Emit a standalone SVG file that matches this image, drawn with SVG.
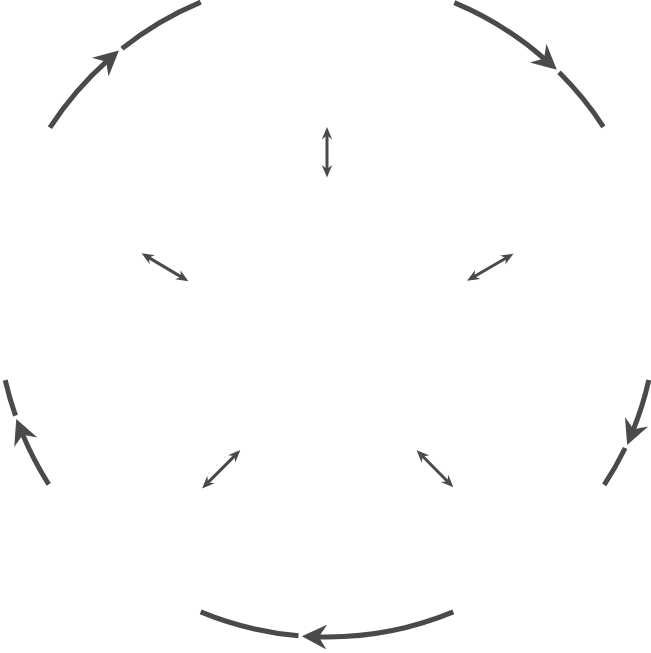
<svg xmlns="http://www.w3.org/2000/svg" width="651" height="653" viewBox="0 0 651 653">
  <style>
    .cycle { fill: none; stroke: #4a4a4a; stroke-width: 5; }
    .spoke { fill: none; stroke: #4a4a4a; stroke-width: 3; }
  </style>
  <defs>
    <marker id="bigHead" markerUnits="userSpaceOnUse" markerWidth="28" markerHeight="28" viewBox="0 -14 28 28" refX="10" refY="0" orient="auto">
      <path d="M25,0 L0,-12.5 L8,0 L0,12.5 Z" fill="#4a4a4a"/>
    </marker>
    <marker id="smallHead" markerUnits="userSpaceOnUse" markerWidth="14" markerHeight="12" viewBox="0 -6 14 12" refX="5" refY="0" orient="auto-start-reverse">
      <path d="M12.5,0 L0,-5.2 L4,0 L0,5.2 Z" fill="#4a4a4a"/>
    </marker>
  </defs>
  <rect width="651" height="653" fill="#ffffff"/>
  <g id="connectors">
    <!-- outer cycle arcs (clockwise) -->
    <path class="cycle" d="M49.9,127.7 A330,330 0 0 1 107.7,60.4" marker-end="url(#bigHead)"/>
    <path class="cycle" d="M122.0,48.6 A330,330 0 0 1 200.7,2.1"/>

    <path class="cycle" d="M454.3,2.6 A330,330 0 0 1 545.6,59.8" marker-end="url(#bigHead)"/>
    <path class="cycle" d="M559.0,72.3 A330,330 0 0 1 603.4,126.8"/>

    <path class="cycle" d="M648.8,380.1 A330,330 0 0 1 632.8,431.0" marker-end="url(#bigHead)"/>
    <path class="cycle" d="M625.2,448.0 A330,330 0 0 1 604.2,484.8"/>

    <path class="cycle" d="M453.3,611.9 A330,330 0 0 1 316.8,636.8" marker-end="url(#bigHead)"/>
    <path class="cycle" d="M298.5,635.8 A330,330 0 0 1 200.7,611.9"/>

    <path class="cycle" d="M48.7,484.3 A330,330 0 0 1 22.0,432.9" marker-end="url(#bigHead)"/>
    <path class="cycle" d="M15.5,415.6 A330,330 0 0 1 5.2,380.1"/>

    <!-- inner double-headed spokes -->
    <line class="spoke" x1="327" y1="134.5" x2="327" y2="170" marker-start="url(#smallHead)" marker-end="url(#smallHead)"/>
    <line class="spoke" x1="148.0" y1="257.1" x2="182.0" y2="277.4" marker-start="url(#smallHead)" marker-end="url(#smallHead)"/>
    <line class="spoke" x1="507.0" y1="257.5" x2="473.5" y2="277.0" marker-start="url(#smallHead)" marker-end="url(#smallHead)"/>
    <line class="spoke" x1="235.1" y1="455.4" x2="207.4" y2="483.1" marker-start="url(#smallHead)" marker-end="url(#smallHead)"/>
    <line class="spoke" x1="421.9" y1="455.5" x2="448.1" y2="482.0" marker-start="url(#smallHead)" marker-end="url(#smallHead)"/>
  </g>
</svg>
